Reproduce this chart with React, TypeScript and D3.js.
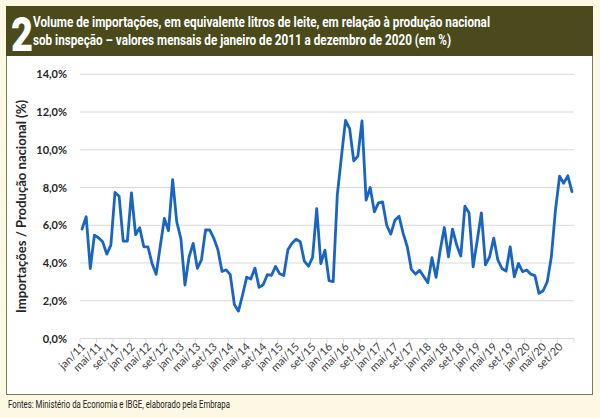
import React from "react";
import * as d3 from "d3";

const monthNames = ["jan", "fev", "mar", "abr", "mai", "jun", "jul", "ago", "set", "out", "nov", "dez"];
const years = ["11", "12", "13", "14", "15", "16", "17", "18", "19", "20"];
const categories: string[] = years.flatMap((yy) => monthNames.map((mm) => `${mm}/${yy}`));

const importShare: number[] = [
  5.8, 6.45, 3.71, 5.48, 5.34, 5.13, 4.47, 4.95, 7.74, 7.54, 5.16, 5.16,
  7.72, 5.5, 5.87, 4.86, 4.86, 3.98, 3.4, 4.9, 6.36, 5.71, 8.42, 6.18,
  5.3, 2.83, 4.33, 5.04, 3.72, 4.17, 5.75, 5.75, 5.31, 4.7, 3.55, 3.64,
  3.38, 1.8, 1.45, 2.32, 3.25, 3.15, 3.73, 2.71, 2.85, 3.38, 3.34, 3.82,
  3.43, 3.34, 4.7, 5.05, 5.26, 5.13, 4.1, 3.83, 4.3, 6.88, 3.97, 4.68,
  3.06, 3.01, 7.6, 9.62, 11.56, 11.12, 9.41, 9.66, 11.53, 7.33, 8.0, 6.71,
  7.19, 7.24, 6.0, 5.53, 6.27, 6.48, 5.57, 4.86, 3.66, 3.41, 3.61, 3.28,
  2.96, 4.28, 3.24, 4.68, 5.88, 4.33, 5.8, 4.95, 4.37, 7.01, 6.66, 3.8,
  5.21, 6.66, 3.9, 4.33, 5.32, 4.16, 3.71, 3.57, 4.86, 3.27, 3.98, 3.54,
  3.63, 3.41, 3.33, 2.39, 2.53, 3.0, 4.33, 6.81, 8.6, 8.23, 8.62, 7.78,
];

const tickLabels: string[] = [
  "jan/11", "mai/11", "set/11", "jan/12", "mai/12", "set/12", "jan/13", "mai/13", "set/13", "jan/14",
  "mai/14", "set/14", "jan/15", "mai/15", "set/15", "jan/16", "mai/16", "set/16", "jan/17", "mai/17",
  "set/17", "jan/18", "mai/18", "set/18", "jan/19", "mai/19", "set/19", "jan/20", "mai/20", "set/20",
];

const yTicks: number[] = [0, 2, 4, 6, 8, 10, 12, 14];

const titleLine1 = "Volume de importações, em equivalente litros de leite, em relação à produção nacional";
const titleLine2 = "sob inspeção – valores mensais de janeiro de 2011 a dezembro de 2020 (em %)";
const yAxisTitle = "Importações / Produção nacional (%)";
const footer = "Fontes: Ministério da Economia e IBGE, elaborado pela Embrapa";

export default function App() {
  const W = 600;
  const H = 418;
  const left = 80;
  const right = 574;
  const top = 74.3;
  const bottom = 338.5;

  const x = d3.scaleBand<string>().domain(categories).range([left, right]).paddingInner(0).paddingOuter(0);
  const y = d3.scaleLinear().domain([0, 14]).range([bottom, top]);
  const bw = x.bandwidth();
  const cx = (c: string) => (x(c) as number) + bw / 2;

  const line = d3
    .line<number>()
    .x((_, i) => cx(categories[i]))
    .y((d) => y(d));

  const fmt = (v: number) => v.toFixed(1).replace(".", ",") + "%";

  const tickPositions: number[] = [];
  for (let i = 0; i < categories.length; i += 4) {
    tickPositions.push(x(categories[i]) as number);
  }
  tickPositions.push(right);

  const labelFont = "Lato, 'Open Sans', sans-serif";
  const condFont = "Roboto, 'Liberation Sans', sans-serif";

  return (
    <svg
      width={W}
      height={H}
      viewBox={`0 0 ${W} ${H}`}
      style={{ position: "absolute", left: 0, top: 0, display: "block" }}
    >
      <rect x={0} y={0} width={W} height={H} fill="#fcf8e4" />
      {/* chart box */}
      <rect x={6.5} y={55.5} width={586} height={339} fill="#ffffff" stroke="#7a7a5c" strokeWidth={1} />
      {/* header band */}
      <rect x={6} y={6} width={587} height={50} fill="#4a4a1d" />
      <text
        x={11}
        y={51}
        fill="#ffffff"
        fontFamily={condFont}
        fontWeight={900}
        fontSize={48}
        textLength={22}
        lengthAdjust="spacingAndGlyphs"
      >
        2
      </text>
      <text
        x={33}
        y={27}
        fill="#ffffff"
        fontFamily={condFont}
        fontWeight={700}
        fontSize={14.5}
        textLength={457}
        lengthAdjust="spacingAndGlyphs"
      >
        {titleLine1}
      </text>
      <text
        x={33}
        y={45}
        fill="#ffffff"
        fontFamily={condFont}
        fontWeight={700}
        fontSize={14.5}
        textLength={418}
        lengthAdjust="spacingAndGlyphs"
      >
        {titleLine2}
      </text>

      {/* gridlines */}
      {yTicks.map((t) => (
        <line key={`g${t}`} x1={left} x2={right} y1={y(t)} y2={y(t)} stroke="#d9d9d9" strokeWidth={1} />
      ))}
      {/* x ticks */}
      {tickPositions.map((p, i) => (
        <line key={`t${i}`} x1={p} x2={p} y1={bottom} y2={bottom + 4} stroke="#d9d9d9" strokeWidth={1} />
      ))}

      {/* y labels */}
      {yTicks.map((t) => (
        <text
          key={`yl${t}`}
          x={67}
          y={y(t) + 4}
          textAnchor="end"
          fontFamily={labelFont}
          fontWeight={700}
          fontSize={11}
          fill="#262626"
        >
          {fmt(t)}
        </text>
      ))}

      {/* y axis title */}
      <text
        transform={`translate(26,206.5) rotate(-90)`}
        textAnchor="middle"
        fontFamily={labelFont}
        fontWeight={700}
        fontSize={13.5}
        fill="#262626"
        textLength={213}
        lengthAdjust="spacingAndGlyphs"
      >
        {yAxisTitle}
      </text>

      {/* x labels */}
      {tickLabels.map((lab) => {
        const px = cx(lab) + 4;
        const py = bottom + 9;
        return (
          <text
            key={lab}
            transform={`translate(${px},${py}) rotate(-45)`}
            textAnchor="end"
            fontFamily={labelFont}
            fontSize={11}
            fill="#404040"
          >
            {lab}
          </text>
        );
      })}

      {/* data line */}
      <path
        d={line(importShare) || ""}
        fill="none"
        stroke="#1a64c2"
        strokeWidth={2.8}
        strokeLinejoin="round"
        strokeLinecap="round"
      />

      {/* footer */}
      <text
        x={8}
        y={407.5}
        fontFamily={condFont}
        fontSize={10}
        fill="#222222"
        textLength={222}
        lengthAdjust="spacingAndGlyphs"
      >
        {footer}
      </text>
    </svg>
  );
}
